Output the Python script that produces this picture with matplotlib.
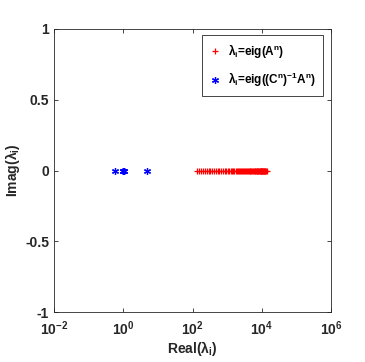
import numpy as np
import matplotlib.pyplot as plt

plt.rcParams['font.family'] = ['Liberation Sans', 'DejaVu Sans']
plt.rcParams['mathtext.fontset'] = 'custom'
plt.rcParams['mathtext.rm'] = 'Liberation Sans:bold'
plt.rcParams['mathtext.bf'] = 'Liberation Sans:bold'
plt.rcParams['mathtext.it'] = 'Liberation Sans:bold'

# eigenvalues of A^n (red)
eig_a_real = [132, 150, 175, 200, 225, 255, 290, 330, 370, 420, 470, 530,
              600, 680, 760, 850, 950, 1050, 1150, 1250, 1380, 1500, 1620,
              1750, 1900, 2050, 2200, 2350, 2500, 2700, 2900, 3100, 3300,
              3500, 3700, 3950, 4200, 4450, 4700, 5000, 5300, 5600, 5900,
              6200, 6500, 6800, 7100, 7400, 7700, 8000, 8300, 8600, 8900,
              9200, 9500, 9800, 10100, 10400, 10700, 11000, 11400, 11800,
              12200, 12600, 13000, 14000]
eig_a_imag = [0] * len(eig_a_real)

# eigenvalues of (C^n)^-1 A^n (blue)
eig_ca_real = [0.57, 0.95, 0.98, 1.0, 1.02, 1.05, 5.0]
eig_ca_imag = [0] * len(eig_ca_real)

fig = plt.figure(figsize=(3.65, 3.62), dpi=100)
ax = fig.add_axes([0.148, 0.138, 0.759, 0.782])

ax.plot(eig_a_real, eig_a_imag, '+', color='red', markersize=5, markeredgewidth=0.9,
        label=r'$\lambda_{\mathrm{i}}$=eig(A$^{\mathrm{n}}$)')
ax.plot(eig_ca_real, eig_ca_imag, marker=(6, 2, 0), linestyle='none', color='blue',
        markersize=5, markeredgewidth=0.9,
        label=r'$\lambda_{\mathrm{i}}$=eig((C$^{\mathrm{n}}$)$^{\mathrm{-1}}$A$^{\mathrm{n}}$)')

ax.set_xscale('log')
ax.set_xlim(1e-2, 1e6)
ax.set_ylim(-1, 1)
ax.set_xticks([1e-2, 1e0, 1e2, 1e4, 1e6])
ax.set_yticks([-1, -0.5, 0, 0.5, 1])
ax.set_yticklabels(['-1', '-0.5', '0', '0.5', '1'])
ax.minorticks_off()
ax.tick_params(direction='in', top=True, right=True, length=3, width=0.6,
               colors='#262626', labelsize=10)
ax.tick_params(axis='x', pad=5)
for lbl in ax.get_xticklabels() + ax.get_yticklabels():
    lbl.set_fontweight('bold')
for s in ax.spines.values():
    s.set_color('#262626')
    s.set_linewidth(0.6)

ax.set_xlabel(r'Real($\lambda_{\mathrm{i}}$)', fontsize=10, fontweight='bold', color='#262626', labelpad=1)
ax.set_ylabel(r'Imag($\lambda_{\mathrm{i}}$)', fontsize=10, fontweight='bold', color='#262626', labelpad=2)

leg = ax.legend(loc='upper right', prop={'weight': 'bold', 'size': 8.5},
                fancybox=False, edgecolor='#262626', framealpha=1,
                handlelength=1.0, handletextpad=0.6, borderpad=0.6, labelspacing=0.9,
                borderaxespad=0, bbox_to_anchor=(0.971, 0.979))
leg.get_frame().set_linewidth(0.6)

fig.savefig('out.png', dpi=100)
